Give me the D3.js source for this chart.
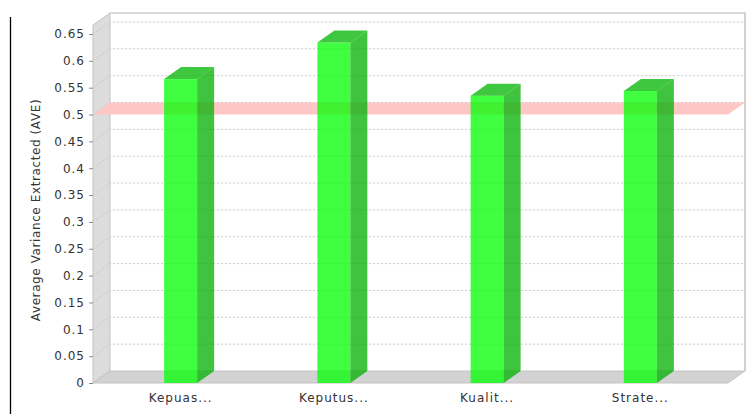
<!DOCTYPE html>
<html>
<head>
<meta charset="utf-8">
<script src="https://cdn.jsdelivr.net/npm/d3@7"></script>
<style>
  body { margin: 0; background: #fff; }
  svg text { font-family: "DejaVu Sans", sans-serif; font-size: 12px; letter-spacing: 1px; fill: #333; }
</style>
</head>
<body>
<svg id="chart"></svg>
<script>
// data
const categories = ["Kepuas...", "Keputus...", "Kualit...", "Strate..."];
const aveValues = [0.566, 0.634, 0.535, 0.544];
const yTicks = [0, 0.05, 0.1, 0.15, 0.2, 0.25, 0.3, 0.35, 0.4, 0.45, 0.5, 0.55, 0.6, 0.65];
const markerValue = 0.5;

const width = 746, height = 414;
const dx = 17, dy = 12; // 3d depth
const plotLeft = 93, plotRight = 728, plotTop = 25, plotBottom = 383;

const svg = d3.select("#chart").attr("width", width).attr("height", height);

const y = d3.scaleLinear().domain([0, 0.6667]).range([plotBottom, plotTop]);
const x = d3.scaleBand().domain(categories).range([104, 717]);
const barW = 33;

// page border line on the left
svg.append("line")
    .attr("x1", 10.5).attr("x2", 10.5)
    .attr("y1", 17).attr("y2", height)
    .attr("stroke", "#000").attr("stroke-width", 1.3);

// back wall
svg.append("rect")
    .attr("x", plotLeft + dx).attr("y", plotTop - dy)
    .attr("width", plotRight - plotLeft).attr("height", plotBottom - plotTop)
    .attr("fill", "#fff");
svg.append("path")
    .attr("d", `M${plotLeft + dx},${plotTop - dy}H${plotRight + dx}V${plotBottom - dy}`)
    .attr("fill", "none").attr("stroke", "#b4b4b4").attr("stroke-width", 1.2);

// left wall
svg.append("polygon")
    .attr("points", [[plotLeft, plotTop], [plotLeft + dx, plotTop - dy], [plotLeft + dx, plotBottom - dy], [plotLeft, plotBottom]].join(" "))
    .attr("fill", "#dcdcdc").attr("stroke", "#c4c4c4").attr("stroke-width", 1);

// floor
svg.append("polygon")
    .attr("points", [[plotLeft, plotBottom], [plotLeft + dx, plotBottom - dy], [plotRight + dx, plotBottom - dy], [plotRight, plotBottom]].join(" "))
    .attr("fill", "#d2d2d2").attr("stroke", "#c4c4c4").attr("stroke-width", 1);

// gridlines
svg.append("g").selectAll("path")
    .data(yTicks.filter(d => d > 0))
    .enter().append("path")
    .attr("d", d => `M${plotLeft},${y(d)}L${plotLeft + dx},${y(d) - dy}H${plotRight + dx}`)
    .attr("fill", "none")
    .attr("stroke", "#c8c8c8")
    .attr("stroke-width", 1)
    .attr("stroke-dasharray", "2,2");

// marker band at 0.5
const ym = y(markerValue);
svg.append("polygon")
    .attr("points", [[plotLeft, ym], [plotLeft + dx, ym - dy], [plotRight + dx, ym - dy], [plotRight, ym]].join(" "))
    .attr("fill", "#ffc6c6");

// bars
const bars = svg.append("g").selectAll("g")
    .data(categories.map((c, i) => ({ key: c, value: aveValues[i] })))
    .enter().append("g");

bars.append("rect")
    .attr("x", d => x(d.key) + x.bandwidth() / 2 - barW / 2)
    .attr("y", d => y(d.value))
    .attr("width", barW)
    .attr("height", d => plotBottom - y(d.value))
    .attr("fill", "#00ff00").attr("fill-opacity", 0.75);

bars.append("polygon")
    .attr("points", d => {
        const x1 = x(d.key) + x.bandwidth() / 2 + barW / 2, yv = y(d.value);
        return [[x1, yv], [x1 + dx, yv - dy], [x1 + dx, plotBottom - dy], [x1, plotBottom]].join(" ");
    })
    .attr("fill", "#00b000").attr("fill-opacity", 0.75);

bars.append("polygon")
    .attr("points", d => {
        const x0 = x(d.key) + x.bandwidth() / 2 - barW / 2, x1 = x0 + barW, yv = y(d.value);
        return [[x0, yv], [x0 + dx, yv - dy], [x1 + dx, yv - dy], [x1, yv]].join(" ");
    })
    .attr("fill", "#00b400").attr("fill-opacity", 0.75);

// y axis
const yAxis = svg.append("g")
    .attr("transform", `translate(${plotLeft},0)`)
    .call(d3.axisLeft(y)
        .tickValues(yTicks)
        .tickSize(4)
        .tickPadding(4)
        .tickFormat(d => String(+d.toFixed(2))));
yAxis.select(".domain").remove();
yAxis.selectAll("line").attr("stroke", "#888");
yAxis.selectAll("text").attr("font-size", null).attr("font-family", null).attr("fill", "#333");

// x labels
svg.append("g").selectAll("text")
    .data(categories)
    .enter().append("text")
    .attr("x", d => x(d) + x.bandwidth() / 2)
    .attr("y", 402)
    .attr("text-anchor", "middle")
    .text(d => d);

// y axis title
svg.append("text")
    .attr("transform", `translate(40,210) rotate(-90)`)
    .attr("text-anchor", "middle")
    .style("letter-spacing", "0.6px")
    .text("Average Variance Extracted (AVE)");
</script>
</body>
</html>
